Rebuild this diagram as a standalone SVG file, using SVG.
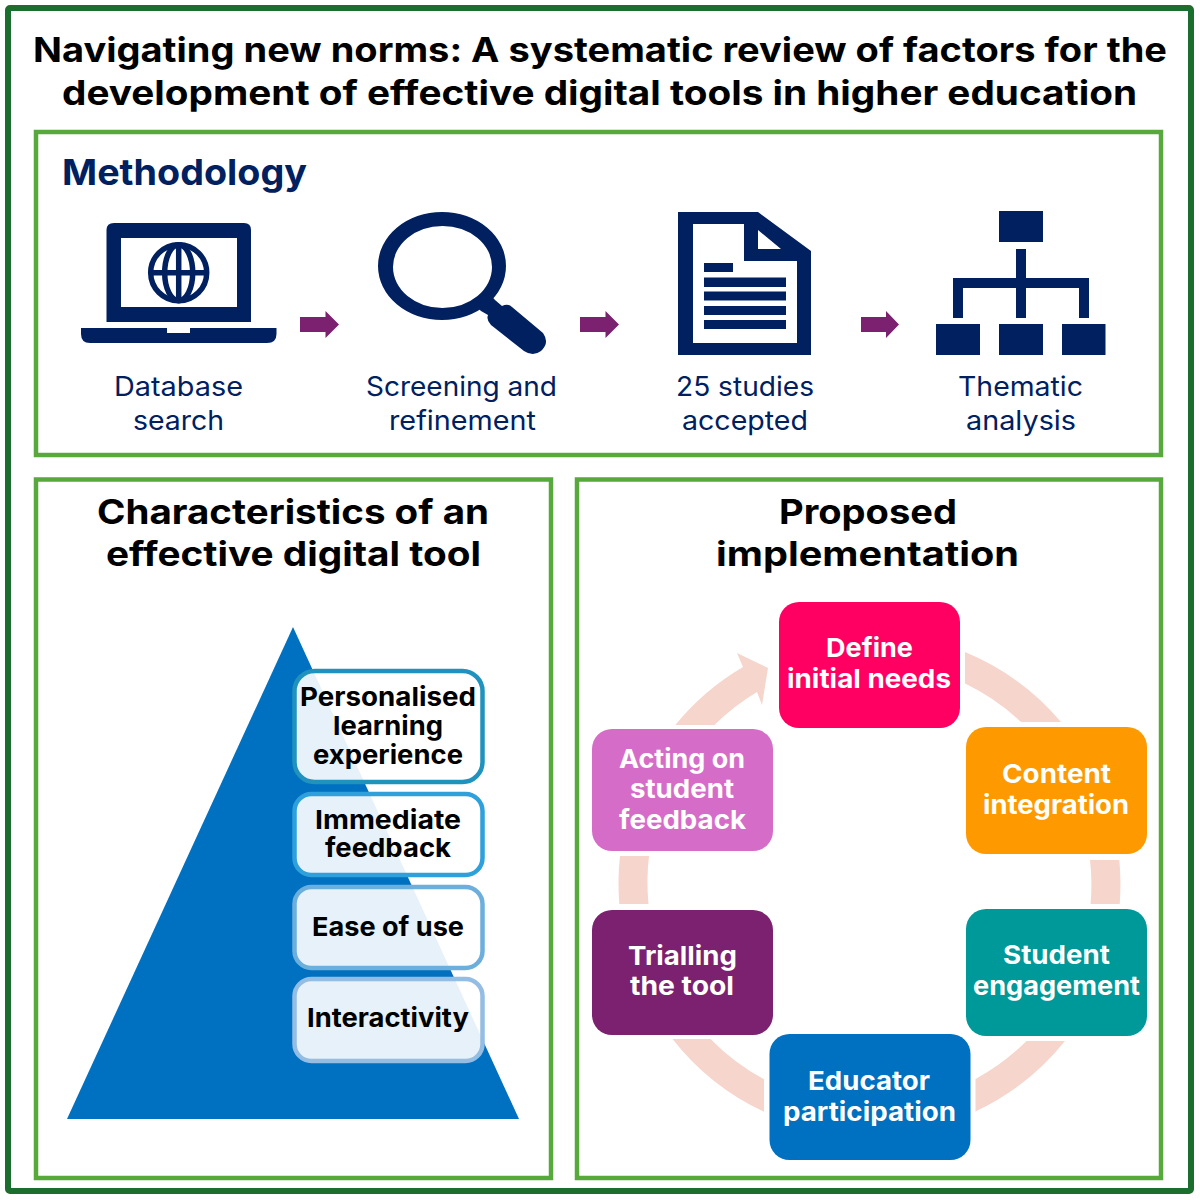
<svg xmlns="http://www.w3.org/2000/svg" width="1200" height="1200" viewBox="0 0 1200 1200">
<style>
text{font-family:"Inter","Liberation Sans",sans-serif}
.t{font-weight:700;font-size:34px;fill:#000}
.h{font-weight:700;font-size:36px;fill:#002060}
.l{font-weight:400;font-size:27px;fill:#002060}
.c{font-weight:700;font-size:26px;fill:#000}
.n{font-weight:700;font-size:26px;fill:#fff}
.panel{fill:none;stroke:#58A93C;stroke-width:4.500}
.ic{fill:#002060}
.ring{fill:#F6D5CC}
.flow{fill:#7B216F}
.card{fill:#fff;fill-opacity:.9;stroke-width:4.500}
</style>
<rect width="1200" height="1200" fill="#fff"/>
<rect x="8" y="8" width="1183" height="1183" rx="2" fill="none" stroke="#1B6E2D" stroke-width="6"/>
<g id="title">
<text class="t" x="33" y="62" textLength="1134" lengthAdjust="spacingAndGlyphs">Navigating new norms: A systematic review of factors for the</text>
<text class="t" x="62" y="105" textLength="1075" lengthAdjust="spacingAndGlyphs">development of effective digital tools in higher education</text>
</g>
<g id="panels">
<rect class="panel" x="36" y="132" width="1125" height="323"/>
<rect class="panel" x="36" y="479.500" width="515" height="698.500"/>
<rect class="panel" x="577" y="479.500" width="584" height="698.500"/>
<text class="h" x="62" y="185" textLength="245" lengthAdjust="spacingAndGlyphs">Methodology</text>
<text class="t" x="97" y="524" textLength="392" lengthAdjust="spacingAndGlyphs">Characteristics of an</text>
<text class="t" x="106" y="566" textLength="375" lengthAdjust="spacingAndGlyphs">effective digital tool</text>
<text class="t" x="779" y="524" textLength="178" lengthAdjust="spacingAndGlyphs">Proposed</text>
<text class="t" x="716" y="566" textLength="303" lengthAdjust="spacingAndGlyphs">implementation</text>
</g>
<g id="connectors">
<path class="flow" d="M300 317H325.500V311L339 324.500 325.500 338V332H300Z"/>
<path class="flow" d="M580 317H605.500V311L619 324.500 605.500 338V332H580Z"/>
<path class="flow" d="M861 317H886V311L899 324.500 886 338V332H861Z"/>
<path class="ring" d="M965 652A251 251 0 0 1 1061 722H1021A222 222 0 0 0 965 683.600Z"/>
<path class="ring" d="M1119.300 860A251 251 0 0 1 1119.700 904H1090.600A222 222 0 0 0 1090 860Z"/>
<path class="ring" d="M1065 1041A251 251 0 0 1 975.500 1111.500V1079A222 222 0 0 0 1026.500 1041Z"/>
<path class="ring" d="M764 1111.800A251 251 0 0 1 672.500 1039H710.500A222 222 0 0 0 764 1079.300Z"/>
<path class="ring" d="M620 856A251 251 0 0 0 619.300 904H648.500A222 222 0 0 1 649 856Z"/>
<path class="ring" d="M675.300 725A251 251 0 0 1 743 667L737 653 768 668 762 705 757 692A222 222 0 0 0 714.500 725Z"/>
</g>
<g id="database-search">
<path class="ic" fill-rule="evenodd" d="M114 223H244Q251 223 251 230V322H106.500V230Q106.500 223 114 223ZM121 238V307H237V238Z"/>
<path class="ic" d="M81 328H167V333H190V328H276.500V334Q276.500 343 267 343H90Q81 343 81 334Z"/>
<g fill="none" stroke="#002060" stroke-width="5.500">
<circle cx="178.700" cy="272.700" r="28"/>
<ellipse cx="178.700" cy="272.700" rx="14" ry="28"/>
<path d="M178.700 245V300M151 272.700H206"/>
</g>
<text class="l" x="114" y="396" textLength="129" lengthAdjust="spacingAndGlyphs">Database</text>
<text class="l" x="133" y="430" textLength="91" lengthAdjust="spacingAndGlyphs">search</text>
</g>
<g id="screening">
<path class="ic" fill-rule="evenodd" d="M378 266A64 54 0 1 1 506 266A64 54 0 1 1 378 266ZM393 267A49.500 41 0 1 0 492 267A49.500 41 0 1 0 393 267Z"/>
<path class="ic" d="M488 292L495 300L502 306Q508 303 512 307L543 333Q550 343 541 351Q533 357 524 351L491 325Q486 320 488 315L481 311L474 304Z"/>
<text class="l" x="366" y="396" textLength="191" lengthAdjust="spacingAndGlyphs">Screening and</text>
<text class="l" x="389" y="430" textLength="147" lengthAdjust="spacingAndGlyphs">refinement</text>
</g>
<g id="studies">
<path class="ic" fill-rule="evenodd" d="M678 212H758L811 251V355H678ZM693 224V343H797V261H744V224ZM758 230V249H781Z"/>
<path class="ic" d="M704 263H733V272H704ZM704 277.500H786V287H704ZM704 291.500H786V300.500H704ZM704 306H786V315H704ZM704 320H786V329H704Z"/>
<text class="l" x="676" y="396" textLength="138" lengthAdjust="spacingAndGlyphs">25 studies</text>
<text class="l" x="682" y="430" textLength="126" lengthAdjust="spacingAndGlyphs">accepted</text>
</g>
<g id="thematic">
<path class="ic" d="M999 211H1043V242H999ZM936 324H980V355H936ZM999 324H1043V355H999ZM1062 324H1105.500V355H1062ZM1016 249H1026V278H1089V318H1079V288H1026V318H1016V288H963V318H953V278H1016Z"/>
<text class="l" x="958" y="396" textLength="125" lengthAdjust="spacingAndGlyphs">Thematic</text>
<text class="l" x="966" y="430" textLength="110" lengthAdjust="spacingAndGlyphs">analysis</text>
</g>
<g id="pyramid"><path d="M293 627L519 1119H67Z" fill="#0070C0"/></g>
<g id="card-personalised">
<rect class="card" x="294.500" y="671" width="188" height="111" rx="20" stroke="#2092BE"/>
<text class="c" x="300" y="706" textLength="176" lengthAdjust="spacingAndGlyphs">Personalised</text>
<text class="c" x="333" y="735" textLength="110" lengthAdjust="spacingAndGlyphs">learning</text>
<text class="c" x="313" y="764" textLength="150" lengthAdjust="spacingAndGlyphs">experience</text>
</g>
<g id="card-feedback">
<rect class="card" x="294.500" y="794" width="188" height="81" rx="17" stroke="#2EA0DC"/>
<text class="c" x="315" y="829" textLength="146" lengthAdjust="spacingAndGlyphs">Immediate</text>
<text class="c" x="325" y="857" textLength="126" lengthAdjust="spacingAndGlyphs">feedback</text>
</g>
<g id="card-ease">
<rect class="card" x="294.500" y="887" width="188" height="81" rx="17" stroke="#6CAFDD"/>
<text class="c" x="312" y="936" textLength="152" lengthAdjust="spacingAndGlyphs">Ease of use</text>
</g>
<g id="card-interactivity">
<rect class="card" x="294.500" y="979" width="188" height="82" rx="17" stroke="#94BDE3"/>
<text class="c" x="307" y="1027" textLength="162" lengthAdjust="spacingAndGlyphs">Interactivity</text>
</g>
<g id="node-define">
<rect x="779" y="602" width="181" height="126" rx="20" fill="#FF0062"/>
<text class="n" x="826" y="657" textLength="87" lengthAdjust="spacingAndGlyphs">Define</text>
<text class="n" x="787" y="688" textLength="164" lengthAdjust="spacingAndGlyphs">initial needs</text>
</g>
<g id="node-content">
<rect x="966" y="727" width="181" height="127" rx="20" fill="#FF9900"/>
<text class="n" x="1002" y="783" textLength="109" lengthAdjust="spacingAndGlyphs">Content</text>
<text class="n" x="983" y="814" textLength="146" lengthAdjust="spacingAndGlyphs">integration</text>
</g>
<g id="node-student">
<rect x="966" y="909" width="181" height="127" rx="20" fill="#009999"/>
<text class="n" x="1003" y="964" textLength="107" lengthAdjust="spacingAndGlyphs">Student</text>
<text class="n" x="973" y="995" textLength="167" lengthAdjust="spacingAndGlyphs">engagement</text>
</g>
<g id="node-educator">
<rect x="769.500" y="1034" width="201" height="126" rx="20" fill="#0070C0"/>
<text class="n" x="808" y="1090" textLength="122" lengthAdjust="spacingAndGlyphs">Educator</text>
<text class="n" x="783" y="1121" textLength="173" lengthAdjust="spacingAndGlyphs">participation</text>
</g>
<g id="node-trialling">
<rect x="592" y="910" width="181" height="125" rx="20" fill="#7B216F"/>
<text class="n" x="628" y="965" textLength="109" lengthAdjust="spacingAndGlyphs">Trialling</text>
<text class="n" x="630" y="995" textLength="104" lengthAdjust="spacingAndGlyphs">the tool</text>
</g>
<g id="node-acting">
<rect x="592" y="729" width="181" height="122" rx="20" fill="#D56DC8"/>
<text class="n" x="619" y="768" textLength="126" lengthAdjust="spacingAndGlyphs">Acting on</text>
<text class="n" x="630" y="798" textLength="104" lengthAdjust="spacingAndGlyphs">student</text>
<text class="n" x="619" y="829" textLength="127" lengthAdjust="spacingAndGlyphs">feedback</text>
</g>
</svg>
